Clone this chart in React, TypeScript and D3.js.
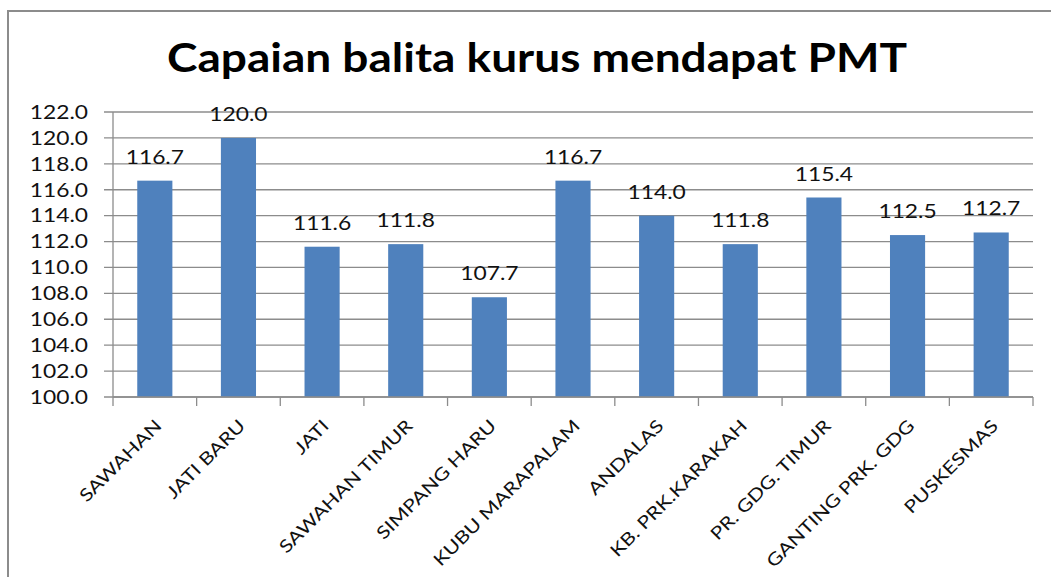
import React from 'react';
import * as d3 from 'd3';

const categories = [
  'SAWAHAN', 'JATI BARU', 'JATI', 'SAWAHAN TIMUR', 'SIMPANG HARU', 'KUBU MARAPALAM',
  'ANDALAS', 'KB. PRK.KARAKAH', 'PR. GDG. TIMUR', 'GANTING PRK. GDG', 'PUSKESMAS',
];
const values = [116.7, 120.0, 111.6, 111.8, 107.7, 116.7, 114.0, 111.8, 115.4, 112.5, 112.7];
const yTicks = [100, 102, 104, 106, 108, 110, 112, 114, 116, 118, 120, 122];
const title = 'Capaian balita kurus mendapat PMT';

const width = 1051;
const height = 577;
const plot = { left: 113, right: 1033, top: 112, bottom: 397 };
const grey = '#8c8c8c';
const barColor = '#4f81bd';
const font = 'Lato, "DejaVu Sans", sans-serif';

export default function App() {
  const x = d3.scaleBand<string>()
    .domain(categories)
    .range([plot.left, plot.right])
    .paddingInner(0.58)
    .paddingOuter(0.29);

  const y = d3.scaleLinear()
    .domain([100, 122])
    .range([plot.bottom, plot.top]);

  const step = x.step();
  const boundaries = d3.range(categories.length + 1).map(i => plot.left + i * step);

  return (
    <svg width={width} height={height} style={{ position: 'absolute', left: 0, top: 0 }}>
      <rect x={0} y={0} width={width} height={height} fill="white" />
      {/* chart frame */}
      <rect x={8} y={11} width={1080} height={600} fill="none" stroke={grey} strokeWidth={2} />

      <text
        x={537}
        y={72}
        textAnchor="middle"
        fontFamily={font}
        fontWeight={700}
        fontSize={41}
        textLength={740}
        lengthAdjust="spacingAndGlyphs"
        fill="black"
      >
        {title}
      </text>

      {/* gridlines + y ticks */}
      {yTicks.map(t => (
        <g key={t}>
          <line x1={plot.left - 9} x2={plot.right} y1={y(t)} y2={y(t)} stroke={grey} strokeWidth={1.3} />
          <text
            transform={`translate(88,${y(t)}) scale(1.2,1)`}
            dy="0.36em"
            textAnchor="end"
            fontFamily={font}
            fontSize={19}
            fill="#111"
          >
            {t.toFixed(1)}
          </text>
        </g>
      ))}

      {/* axes */}
      <line x1={plot.left} x2={plot.left} y1={plot.top} y2={plot.bottom} stroke={grey} strokeWidth={1.3} />
      {boundaries.map((b, i) => (
        <line key={i} x1={b} x2={b} y1={plot.bottom} y2={plot.bottom + 9} stroke={grey} strokeWidth={1.3} />
      ))}

      {/* bars */}
      {categories.map((c, i) => (
        <rect
          key={c}
          x={x(c)}
          y={y(values[i])}
          width={x.bandwidth()}
          height={y(100) - y(values[i])}
          fill={barColor}
        />
      ))}
      <line x1={plot.left} x2={plot.right} y1={plot.bottom} y2={plot.bottom} stroke={grey} strokeWidth={1.3} />

      {/* value labels */}
      {categories.map((c, i) => (
        <text
          key={c}
          transform={`translate(${(x(c) ?? 0) + x.bandwidth() / 2},${y(values[i]) - 17}) scale(1.2,1)`}
          textAnchor="middle"
          fontFamily={font}
          fontSize={19}
          fill="#111"
        >
          {values[i].toFixed(1)}
        </text>
      ))}

      {/* category labels */}
      {categories.map(c => (
        <text
          key={c}
          transform={`translate(${(x(c) ?? 0) + x.bandwidth() / 2 + 8},427) rotate(-45) scale(1.22,1)`}
          textAnchor="end"
          fontFamily={font}
          fontSize={17.5}
          fill="#111"
        >
          {c}
        </text>
      ))}
    </svg>
  );
}
